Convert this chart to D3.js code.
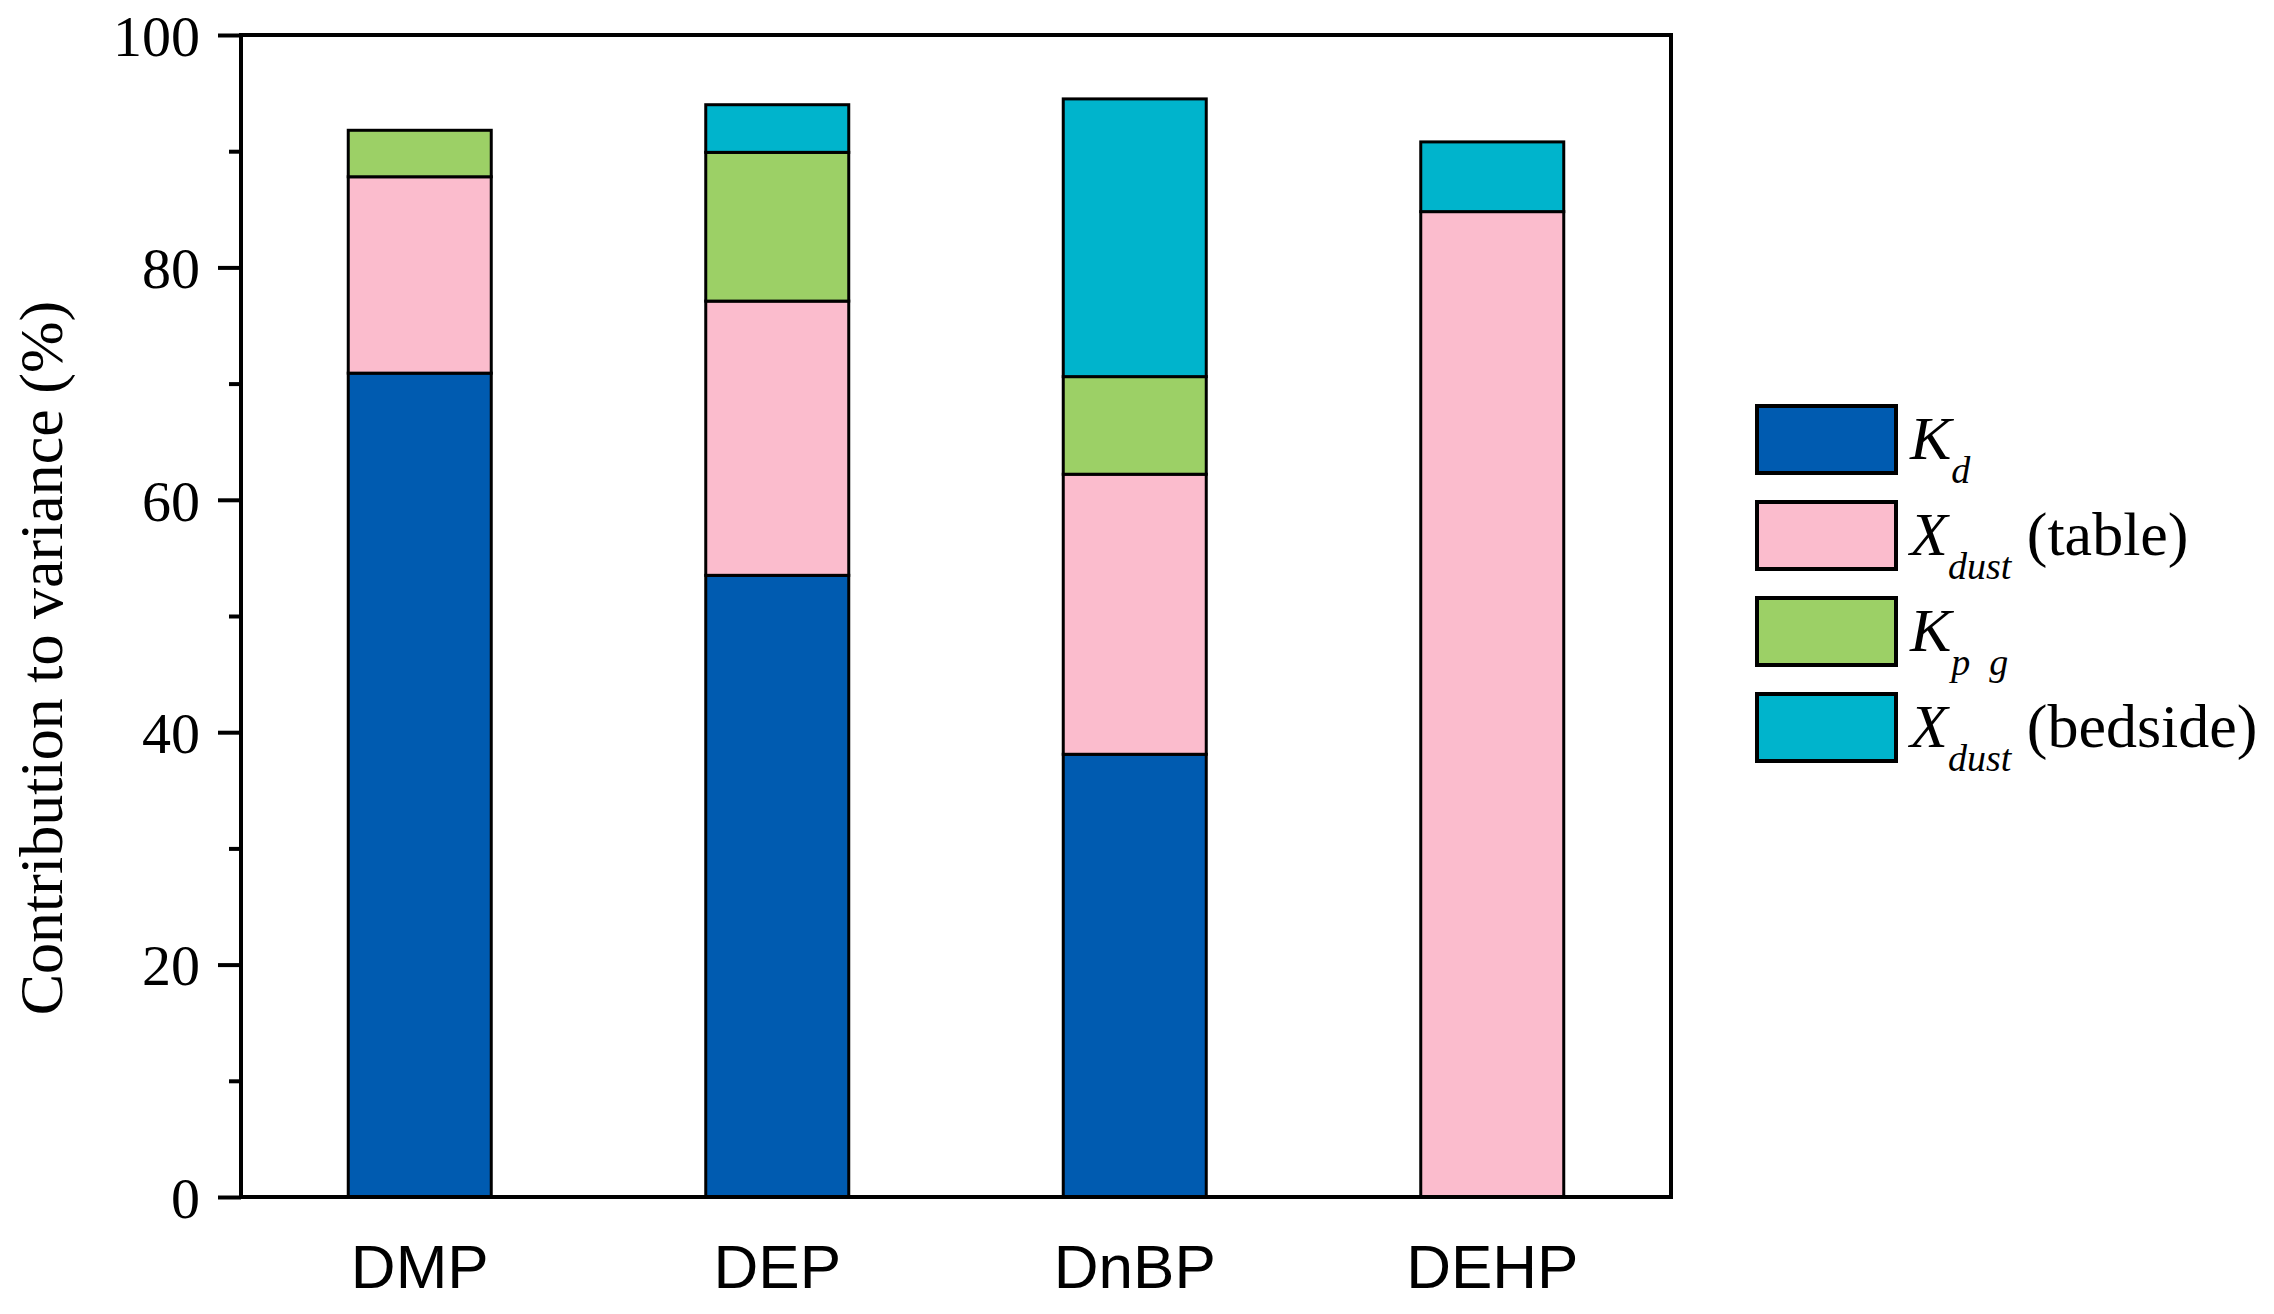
<!DOCTYPE html>
<html>
<head>
<meta charset="utf-8">
<script src="https://cdn.jsdelivr.net/npm/d3@7"></script>
<style>
  html, body { margin: 0; padding: 0; background: #fff; }
  svg { display: block; }
</style>
</head>
<body>
<svg id="chart" width="2274" height="1314"></svg>
<script>
// ---- data ----
const categories = ["DMP", "DEP", "DnBP", "DEHP"];
const seriesKeys = ["Kd", "XdustTable", "Kpg", "XdustBedside"];
const Kd           = [70.9, 53.5, 38.1, 0];
const XdustTable   = [16.9, 23.6, 24.1, 84.8];
const Kpg          = [4.0, 12.8, 8.4, 0];
const XdustBedside = [0, 4.1, 23.9, 6.0];
const yTicks = [0, 20, 40, 60, 80, 100];
const yMinorTicks = [10, 30, 50, 70, 90];
const colors = ["#005bb0", "#fbbccd", "#9cd066", "#00b4cc"];
const legendLabels = [
  {main: "K", sub: "d", rest: ""},
  {main: "X", sub: "dust", rest: " (table)"},
  {main: "K", sub: "p  g", rest: ""},
  {main: "X", sub: "dust", rest: " (bedside)"}
];

const valuesByKey = {Kd, XdustTable, Kpg, XdustBedside};
const table = categories.map((c, i) => {
  const row = {category: c};
  seriesKeys.forEach(k => row[k] = valuesByKey[k][i]);
  return row;
});

// ---- layout ----
const svg = d3.select("#chart");
const mLeft = 241, mRight = 1671, mTop = 35, mBottom = 1197;

const x = d3.scaleBand().domain(categories).range([mLeft, mRight])
  .paddingInner(0.6).paddingOuter(0.3);
const y = d3.scaleLinear().domain([0, 100]).range([mBottom, mTop]);
const color = d3.scaleOrdinal().domain(seriesKeys).range(colors);

const stacked = d3.stack().keys(seriesKeys)(table);

// bars
svg.append("g").selectAll("g").data(stacked).join("g")
  .attr("fill", d => color(d.key))
  .selectAll("rect")
  .data(d => d.filter(s => s[1] - s[0] > 0))
  .join("rect")
  .attr("x", d => x(d.data.category))
  .attr("width", x.bandwidth())
  .attr("y", d => y(d[1]))
  .attr("height", d => y(d[0]) - y(d[1]))
  .attr("stroke", "#000")
  .attr("stroke-width", 3);

// frame
svg.append("rect")
  .attr("x", mLeft).attr("y", mTop)
  .attr("width", mRight - mLeft).attr("height", mBottom - mTop)
  .attr("fill", "none").attr("stroke", "#000").attr("stroke-width", 4);

// y axis major
const yAxis = svg.append("g").attr("transform", `translate(${mLeft},0)`)
  .call(d3.axisLeft(y).tickValues(yTicks).tickSize(23).tickPadding(18).tickFormat(d3.format("d")));
yAxis.select(".domain").remove();
yAxis.selectAll(".tick line").attr("stroke", "#000").attr("stroke-width", 4);
yAxis.selectAll(".tick text")
  .attr("font-family", "'Liberation Serif', 'Times New Roman', serif")
  .attr("font-size", 58).attr("fill", "#000").attr("dy", "0.35em");

// y axis minor
const yMinor = svg.append("g").attr("transform", `translate(${mLeft},0)`)
  .call(d3.axisLeft(y).tickValues(yMinorTicks).tickSize(12).tickFormat(""));
yMinor.select(".domain").remove();
yMinor.selectAll(".tick line").attr("stroke", "#000").attr("stroke-width", 4);

// x axis
const xAxis = svg.append("g").attr("transform", `translate(0,${mBottom})`)
  .call(d3.axisBottom(x).tickSize(0).tickPadding(47));
xAxis.select(".domain").remove();
xAxis.selectAll(".tick text")
  .attr("font-family", "'Liberation Sans', Arial, sans-serif")
  .attr("font-size", 62).attr("fill", "#000");

// y title
svg.append("text")
  .attr("transform", `translate(62,658) rotate(-90)`)
  .attr("text-anchor", "middle")
  .attr("font-family", "'Liberation Serif', 'Times New Roman', serif")
  .attr("font-size", 62)
  .text("Contribution to variance (%)");

// legend
const legend = svg.append("g");
const lx = 1757, ly0 = 406, lStep = 96, bw = 139, bh = 67;
legendLabels.forEach((lab, i) => {
  const g = legend.append("g").attr("transform", `translate(${lx},${ly0 + i * lStep})`);
  g.append("rect").attr("width", bw).attr("height", bh)
    .attr("fill", colors[i]).attr("stroke", "#000").attr("stroke-width", 4);
  const t = g.append("text")
    .attr("x", bw + 14).attr("y", 53)
    .attr("font-family", "'Liberation Serif', 'Times New Roman', serif")
    .attr("font-size", 62).style("white-space", "pre");
  t.append("tspan").attr("font-style", "italic").text(lab.main);
  t.append("tspan").attr("font-style", "italic").attr("font-size", 38).attr("dy", 24).text(lab.sub);
  if (lab.rest) t.append("tspan").attr("dy", -24).text(lab.rest);
});
</script>
</body>
</html>
